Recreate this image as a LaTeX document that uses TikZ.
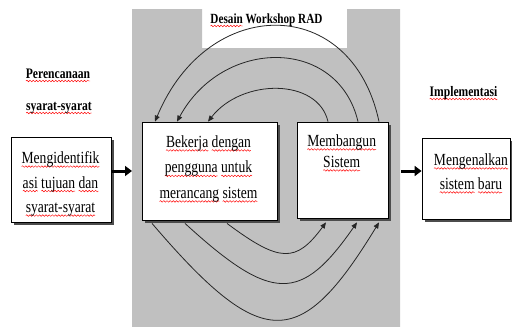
\documentclass[tikz,border=0pt]{standalone}
\usepackage{fontspec}
\setmainfont{Liberation Serif}[FakeStretch=0.8]
\usetikzlibrary{arrows.meta,shadows,decorations.pathmorphing}

% red wavy underline for a single word
\newlength\wavelen
\newcommand\redwave[1]{\settowidth\wavelen{#1}%
  \rlap{\tikz[x=1pt,y=1pt,baseline=0pt]{%
    \useasboundingbox (0,0) rectangle (\the\wavelen,0);
    \draw[red, line width=0.45pt, decorate,
      decoration={snake, amplitude=0.8pt, segment length=3.2pt}]
      (0,-3) -- (\the\wavelen,-3);}}#1}
\definecolor{backdrop}{RGB}{192,192,192}

\begin{document}
\begin{tikzpicture}[x=1pt,y=-1pt,
  box/.style={draw=black, line width=0.8pt, fill=white, inner sep=0pt,
    drop shadow={shadow xshift=3pt, shadow yshift=-3pt, fill=black!70, opacity=1}},
  boxtext/.style={align=center, inner sep=0pt, anchor=north},
  heading/.style={font=\fontsize{14.5}{17}\selectfont\bfseries, inner sep=0pt, anchor=base},
  bigarrow/.style={line width=3pt, -{Triangle[length=7pt,width=10pt]}},
  loop/.style={line width=0.8pt, draw=black!85, -{Triangle[length=6pt,width=5pt]}}
]
\useasboundingbox (0,0) rectangle (512,327);

% workshop backdrop with the notch for its title
\fill[backdrop] (132,9) -- (202,9) -- (202,48) -- (347,48) -- (347,9)
  -- (400,9) -- (400,327) -- (132,327) -- cycle;

% boxes
\node[box, minimum width=100pt, minimum height=85pt] (L) at (61,179.5) {};
\node[box, minimum width=135pt, minimum height=98pt] (B) at (209.5,171) {};
\node[box, minimum width=91pt, minimum height=96pt] (M) at (342.5,170) {};
\node[box, minimum width=88pt, minimum height=81pt] (E) at (466,178.5) {};

% box texts
\node[boxtext, font=\fontsize{17}{24.5}\selectfont] (Lt) at (60.5,151.4)
  {\redwave{Mengidentifik}\\\redwave{asi} \redwave{tujuan} \redwave{dan}\\\redwave{syarat-syarat}};
\node[boxtext, font=\fontsize{17}{25.5}\selectfont] (Bt) at (208.5,135.4)
  {\redwave{Bekerja} \redwave{dengan}\\\redwave{pengguna} \redwave{untuk}\\\redwave{merancang} \redwave{sistem}};
\node[boxtext, font=\fontsize{17}{21}\selectfont] (Mt) at (341.7,134.4)
  {\redwave{Membangun}\\\redwave{Sistem}};
\node[boxtext, font=\fontsize{17}{24}\selectfont] (Et) at (471,153.4)
  {\redwave{Mengenalkan}\\\redwave{sistem} \redwave{baru}};

% phase headings
\node[heading] (plan1) at (58,78) {\redwave{Perencanaan}};
\node[heading] (plan2) at (59,110) {\redwave{syarat-syarat}};
\node[heading] (impl) at (463.5,96) {\redwave{Implementasi}};
\node[heading, font=\fontsize{14}{17}\selectfont\bfseries] (title) at (266.5,23)
  {\redwave{Desain} Workshop RAD};

% flow between phases
\coordinate (gL) at (132,171);
\coordinate (gR) at (401,171);
\draw[bigarrow] (L.east |- gL) -- (gL);
\draw[bigarrow] (gR) -- (E.west |- gR);

% iteration loops above the boxes
\draw[loop] (379,0 |- M.north) .. controls (352,-6) and (208,-6) .. (155,0 |- B.north);
\draw[loop] (358,0 |- M.north) .. controls (338,37) and (223,37) .. (177,0 |- B.north);
\draw[loop] (328,0 |- M.north) .. controls (318,78) and (242,78) .. (208,0 |- B.north);

% iteration loops below the boxes
\coordinate (bs) at ([yshift=-3pt]B.south);
\coordinate (ms) at ([yshift=-4pt]M.south);
\draw[loop] (152,0 |- bs) .. controls (262,352) and (300,352) .. (379,0 |- ms);
\draw[loop] (185,0 |- bs) .. controls (272,303) and (301,303) .. (357,0 |- ms);
\draw[loop] (227,0 |- bs) .. controls (280,263) and (296,263) .. (326,0 |- ms);
\end{tikzpicture}
\end{document}
